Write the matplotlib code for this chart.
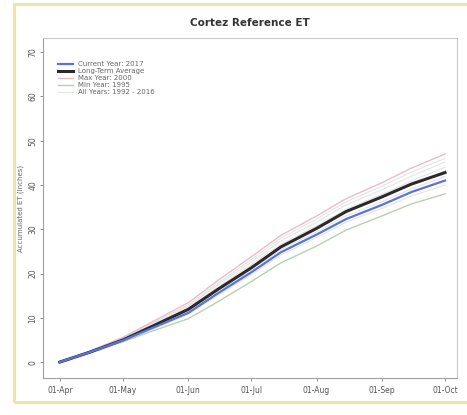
import matplotlib
matplotlib.use("Agg")
import matplotlib.pyplot as plt
from matplotlib.patches import Rectangle
import numpy as np
import datetime as dt

# semi-monthly sample dates, 2017 season
dates = ["2017-04-01", "2017-04-15", "2017-05-01", "2017-05-15", "2017-06-01", "2017-06-15",
         "2017-07-01", "2017-07-15", "2017-08-01", "2017-08-15", "2017-09-01", "2017-09-15", "2017-10-01"]

avg_et = [0, 2.2, 5.0, 8.1, 11.9, 16.4, 21.3, 26.0, 30.2, 34.0, 37.3, 40.2, 42.8]
cur_et = [0, 2.2, 4.9, 7.7, 11.1, 15.5, 20.3, 24.8, 28.8, 32.3, 35.5, 38.4, 41.0]
max_et = [0, 2.4, 5.6, 9.1, 13.4, 18.4, 23.8, 28.6, 33.0, 36.9, 40.5, 43.8, 47.0]
min_et = [0, 2.0, 4.6, 7.0, 9.8, 13.6, 18.2, 22.4, 26.2, 29.8, 33.0, 35.7, 38.0]
all_years = [
    [0, 2.3, 5.3, 8.6, 12.6, 17.4, 22.6, 27.4, 31.6, 35.5, 38.9, 42.0, 45.2],
    [0, 2.3, 5.1, 8.3, 12.2, 16.9, 22.0, 26.6, 30.8, 34.5, 37.9, 40.9, 44.0],
    [0, 2.1, 4.8, 7.8, 11.5, 16.0, 20.9, 25.4, 29.4, 33.0, 36.2, 39.1, 41.9],
    [0, 2.1, 4.7, 7.4, 10.8, 15.1, 19.8, 24.2, 28.1, 31.6, 34.7, 37.5, 40.0],
    [0, 2.4, 5.4, 8.8, 12.9, 17.8, 23.2, 28.0, 32.3, 36.2, 39.7, 42.9, 46.0],
]

d = [dt.datetime.strptime(s, "%Y-%m-%d") for s in dates]
months = ["2017-04-01", "2017-05-01", "2017-06-01", "2017-07-01", "2017-08-01", "2017-09-01", "2017-10-01"]
mt = [dt.datetime.strptime(s, "%Y-%m-%d") for s in months]

fig = plt.figure(figsize=(4.67, 4.15), dpi=100)
fig.patch.set_facecolor("white")
# yellowish frame round the panel
fig.patches.append(Rectangle((14/467, 13/415), 1.2, 398/415, transform=fig.transFigure,
                             facecolor="none", edgecolor="#efe3a8", linewidth=2.2))

ax = fig.add_axes([43/467, 37/415, 414/467, 340/415])
for ys in all_years:
    ax.plot(d, ys, color="#e4e4e4", lw=0.8, zorder=1)
ax.plot(d, max_et, color="#e8bccb", lw=1.0, zorder=2)
ax.plot(d, min_et, color="#b8d0b0", lw=1.0, zorder=2)
ax.plot(d, avg_et, color="#2a2a2a", lw=2.2, zorder=3)
ax.plot(d, cur_et, color="#5a72e0", lw=1.6, zorder=4)

ax.set_xlim(mt[0] - dt.timedelta(days=8), mt[-1] + dt.timedelta(days=5.7))
ax.set_ylim(-3.6, 73.2)
ax.set_xticks(mt)
ax.set_xticklabels([m.strftime("%d-%b") for m in mt])
ax.set_yticks(np.arange(0, 71, 10))
ax.tick_params(axis="both", labelsize=5.5, colors="#777777", length=2.5, width=0.6, labelcolor="#555555")
ax.tick_params(axis="y", pad=1.5)
for lab in ax.get_yticklabels():
    lab.set_rotation(90)
    lab.set_va("center")
for s in ax.spines.values():
    s.set_color("#c8c8c8")
    s.set_linewidth(0.8)
ax.spines["left"].set_color("#a0a0a0")
ax.spines["bottom"].set_color("#a0a0a0")

ax.set_ylabel("Accumulated ET (inches)", fontsize=5, color="#666666", labelpad=3)
ax.set_title("Cortez Reference ET", fontsize=7.5, fontweight="bold", color="#333333", pad=9)

handles = [
    plt.Line2D([], [], color="#5a72e0", lw=1.6),
    plt.Line2D([], [], color="#2a2a2a", lw=2.2),
    plt.Line2D([], [], color="#e8bccb", lw=1.0),
    plt.Line2D([], [], color="#b8d0b0", lw=1.0),
    plt.Line2D([], [], color="#e4e4e4", lw=0.8),
]
labels = ["Current Year: 2017", "Long-Term Average", "Max Year: 2000", "Min Year: 1995", "All Years: 1992 - 2016"]
leg = ax.legend(handles, labels, loc="upper left", bbox_to_anchor=(0.02, 0.95), frameon=False,
                fontsize=5, handlelength=2.2, labelspacing=0.15, handletextpad=0.8)
for t in leg.get_texts():
    t.set_color("#666666")

fig.savefig("out.png", dpi=100)
